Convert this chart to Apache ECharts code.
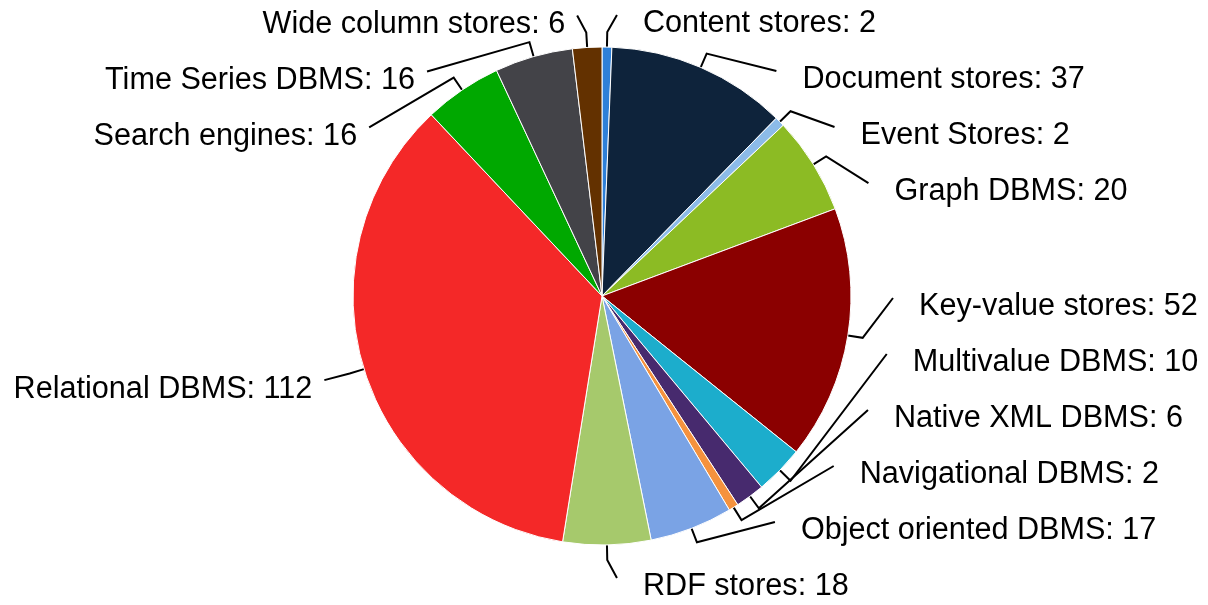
<!DOCTYPE html>
<html>
<head>
<meta charset="utf-8">
<script src="https://cdn.jsdelivr.net/npm/echarts@6/dist/echarts.min.js"></script>
<style>
html,body{margin:0;padding:0;background:#ffffff;}
#chart{width:1208px;height:605px;}
</style>
</head>
<body>
<div id="chart"></div>
<script>
// ---- data ----
const categories = ['Content stores','Document stores','Event Stores','Graph DBMS','Key-value stores','Multivalue DBMS','Native XML DBMS','Navigational DBMS','Object oriented DBMS','RDF stores','Relational DBMS','Search engines','Time Series DBMS','Wide column stores'];
const values = [2, 37, 2, 20, 52, 10, 6, 2, 17, 18, 112, 16, 16, 6];
const colors = ['#2f80d8','#0e233b','#8cbbe8','#8cbb24','#8b0000','#1cadcc','#472a6e','#f5923e','#7aa3e5','#a6c96c','#f42828','#00a800','#434348','#633100'];

// ---- layout constants ----
const CX = 602, CY = 296, R = 249;
const SLOT = 56;           // vertical spacing between labels
const LINE_A = 291, LINE_B = 281; // ellipse on which label lines end
const RADIAL = 15;         // first (radial) segment of label line

const chart = echarts.init(document.getElementById('chart'), null, {renderer: 'canvas'});
const arcPts = {};

function buildOption(layoutFn) {
  return {
    animation: false,
    backgroundColor: '#ffffff',
    series: [{
      type: 'pie',
      center: [CX, CY],
      radius: R,
      startAngle: 90,
      clockwise: true,
      avoidLabelOverlap: false,
      data: categories.map((name, i) => ({name: name, value: values[i], itemStyle: {color: colors[i]}})),
      itemStyle: {borderColor: '#ffffff', borderWidth: 1},
      label: {
        show: true,
        position: 'outside',
        formatter: '{b}: {c}',
        color: '#000000',
        fontSize: 30.6,
        fontFamily: '"Liberation Sans", Arial, sans-serif',
        distanceToLabelLine: 0
      },
      labelLine: {show: true, length: 15, length2: 15, smooth: false,
                  lineStyle: {color: '#000000', width: 2}},
      emphasis: {disabled: true},
      labelLayout: layoutFn
    }]
  };
}

// pass 1: record arc anchor points computed by ECharts
chart.setOption(buildOption(function (p) {
  if (p.labelLinePoints && p.labelLinePoints.length) {
    arcPts[p.dataIndex] = p.labelLinePoints[0].slice();
  }
  return {};
}));

// fallback via item layout if callback did not record
(function () {
  const data = chart.getModel().getSeriesByIndex(0).getData();
  for (let i = 0; i < categories.length; i++) {
    if (!arcPts[i]) {
      const l = data.getItemLayout(i);
      const mid = (l.startAngle + l.endAngle) / 2;
      arcPts[i] = [l.cx + l.r * Math.cos(mid), l.cy + l.r * Math.sin(mid)];
    }
  }
})();

function computeLayout() {
  const H = chart.getHeight();
  const items = categories.map((c, i) => {
    const p0 = arcPts[i];
    const dx = p0[0] - CX, dy = p0[1] - CY;
    const d = Math.hypot(dx, dy) || 1;
    const ux = dx / d, uy = dy / d;
    const nat = CY + (R + 10) * uy + (uy >= 0 ? 15 : -15);
    return {i: i, p0: p0, ux: ux, uy: uy, dir: ux >= 0 ? 1 : -1, nat: nat};
  });
  const TOP = 20, BOT = H - 20;
  [1, -1].forEach(dir => {
    const list = items.filter(it => it.dir === dir).sort((a, b) => a.nat - b.nat);
    let prev = -Infinity;
    list.forEach(it => { it.y = Math.max(it.nat, prev + SLOT, TOP); prev = it.y; });
    let next = Infinity;
    for (let k = list.length - 1; k >= 0; k--) {
      const it = list[k];
      it.y = Math.min(it.y, next - SLOT, BOT);
      next = it.y;
    }
  });
  const out = {};
  items.forEach(it => {
    const ey = it.y - 7;
    const t = (ey - CY) / LINE_B;
    let ex = LINE_A * Math.sqrt(Math.max(0, 1 - t * t));
    ex = Math.max(ex, Math.abs(it.p0[0] - CX) + 10);
    const exAbs = CX + it.dir * ex;
    const p1 = [it.p0[0] + it.ux * RADIAL, it.p0[1] + it.uy * RADIAL];
    out[it.i] = {
      x: exAbs + it.dir * (it.dir > 0 ? 26 : 12),
      y: it.y + 2,
      align: it.dir > 0 ? 'left' : 'right',
      pts: [it.p0, p1, [exAbs, ey]]
    };
  });
  return out;
}

const LAYOUT = computeLayout();

// pass 2: final label placement
chart.setOption(buildOption(function (p) {
  const L = LAYOUT[p.dataIndex];
  if (!L) return {};
  return {x: L.x, y: L.y, align: L.align, verticalAlign: 'middle', labelLinePoints: L.pts};
}));
</script>
</body>
</html>
